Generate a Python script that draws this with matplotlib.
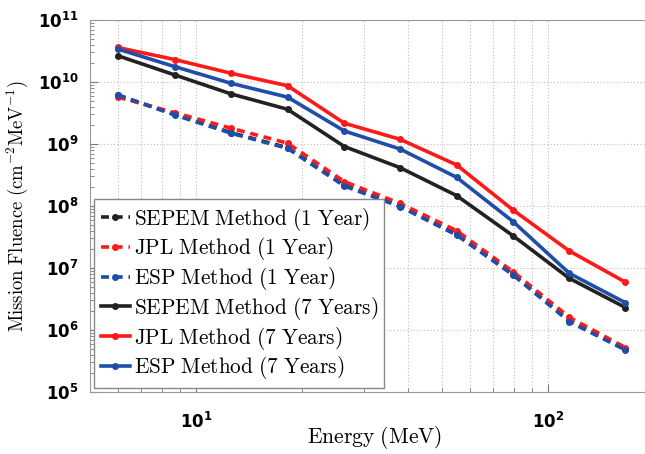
import numpy as np
import matplotlib
matplotlib.use("Agg")
import matplotlib.pyplot as plt
from matplotlib.ticker import LogLocator, FixedLocator, FuncFormatter, NullFormatter
from matplotlib.font_manager import FontProperties

# energy bin centres (MeV)
energy = [6.0, 8.7, 12.6, 18.2, 26.4, 38.0, 55.0, 79.6, 115.0, 166.0]

# 1 year mission fluence
sepem_1y = [6.1e9, 3.0e9, 1.52e9, 8.7e8, 2.15e8, 1.0e8, 3.5e7, 7.9e6, 1.4e6, 4.9e5]
jpl_1y = [5.7e9, 3.2e9, 1.79e9, 1.03e9, 2.47e8, 1.10e8, 4.0e7, 8.7e6, 1.6e6, 5.2e5]
esp_1y = [6.2e9, 2.94e9, 1.49e9, 8.5e8, 2.1e8, 9.75e7, 3.4e7, 7.7e6, 1.36e6, 4.75e5]

# 7 year mission fluence
sepem_7y = [2.65e10, 1.30e10, 6.4e9, 3.63e9, 9.1e8, 4.15e8, 1.47e8, 3.3e7, 6.8e6, 2.3e6]
jpl_7y = [3.6e10, 2.3e10, 1.38e10, 8.7e9, 2.16e9, 1.19e9, 4.6e8, 8.6e7, 1.88e7, 5.9e6]
esp_7y = [3.4e10, 1.77e10, 9.5e9, 5.7e9, 1.62e9, 8.3e8, 2.9e8, 5.6e7, 8.2e6, 2.75e6]

labels = ['SEPEM Method (1 Year)', 'JPL Method (1 Year)', 'ESP Method (1 Year)',
          'SEPEM Method (7 Years)', 'JPL Method (7 Years)', 'ESP Method (7 Years)']

yticks = [1e5, 1e6, 1e7, 1e8, 1e9, 1e10, 1e11]
xticks = [10, 100]

black = '#222222'
red = '#ff1a1a'
blue = '#1f4ea8'


def mlabel(s):
    return r'$\mathrm{' + s.replace(' ', r'\ ') + '}$'


fig = plt.figure(figsize=(6.45, 4.54), dpi=100)
ax = fig.add_axes([0.1395, 0.1366, 0.8744, 0.8194])

dash = dict(linestyle=(0, (2.2, 1.6)), linewidth=2.6, marker='o', markersize=4)
solid = dict(linestyle='-', linewidth=2.6, marker='o', markersize=4)

ax.plot(energy, sepem_1y, color=black, label=mlabel(labels[0]), **dash)
ax.plot(energy, jpl_1y, color=red, label=mlabel(labels[1]), **dash)
ax.plot(energy, esp_1y, color=blue, label=mlabel(labels[2]), **dash)
ax.plot(energy, sepem_7y, color=black, label=mlabel(labels[3]), **solid)
ax.plot(energy, jpl_7y, color=red, label=mlabel(labels[4]), **solid)
ax.plot(energy, esp_7y, color=blue, label=mlabel(labels[5]), **solid)

ax.set_xscale('log')
ax.set_yscale('log')
ax.set_xlim(5, 200)
ax.set_ylim(1e5, 1e11)

ax.yaxis.set_major_locator(FixedLocator(yticks))
ax.xaxis.set_major_locator(FixedLocator(xticks))
ax.yaxis.set_minor_locator(LogLocator(base=10, subs=np.arange(2, 10), numticks=20))
ax.yaxis.set_minor_formatter(NullFormatter())
ax.xaxis.set_minor_formatter(NullFormatter())

tickfmt = FuncFormatter(lambda v, p: r'$\mathbf{10^{%d}}$' % int(round(np.log10(v))))
ax.xaxis.set_major_formatter(tickfmt)
ax.yaxis.set_major_formatter(tickfmt)
for t in ax.get_xticklabels() + ax.get_yticklabels():
    t.set_fontproperties(FontProperties(size=12, weight='bold', math_fontfamily='dejavusans'))

ax.tick_params(which='both', direction='in', color='#777777')
ax.tick_params(which='major', length=6)
ax.tick_params(axis='y', which='major', pad=8)
ax.tick_params(axis='x', which='major', pad=14)
ax.tick_params(which='minor', length=3)
ax.grid(True, which='major', axis='both', linestyle=(0, (1, 2)), color='#bbbbbb', linewidth=0.8)
ax.grid(True, which='minor', axis='x', linestyle=(0, (1, 2)), color='#bbbbbb', linewidth=0.8)
for s in ax.spines.values():
    s.set_color('#999999')

ax.set_xlabel(r'$\mathrm{Energy\ (MeV)}$', fontproperties=FontProperties(size=15.5, math_fontfamily='cm'),
              labelpad=1)
ax.xaxis.set_label_coords((375 - 90) / 564, -0.085)
ax.xaxis.label.set_va('top')
ax.set_ylabel(r'$\mathrm{Mission\ Fluence\ (cm^{-2}MeV^{-1})}$',
              fontproperties=FontProperties(size=13.5, math_fontfamily='cm'), labelpad=6)

leg = ax.legend(loc='lower left', prop=FontProperties(size=15.3, math_fontfamily='cm'),
                fancybox=False, edgecolor='#888888', framealpha=1, handlelength=1.4,
                handletextpad=0.15, borderaxespad=0.2, labelspacing=0.13, borderpad=0.3)
leg.get_frame().set_linewidth(1.0)

fig.savefig('out.png', dpi=100)
